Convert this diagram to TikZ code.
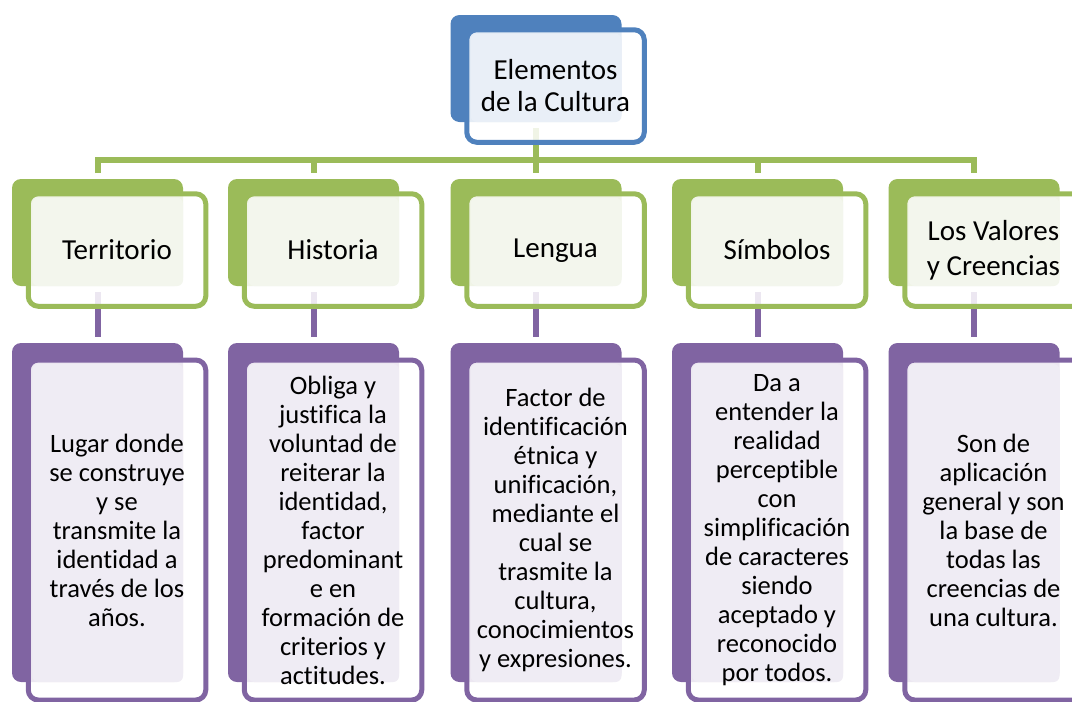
\documentclass[tikz,border=0pt]{standalone}
\usepackage{fontspec}
\setmainfont[Ligatures=NoCommon]{Carlito}
\definecolor{cgreen}{RGB}{155,187,89}
\definecolor{cgreenlt}{RGB}{243,246,237}
\definecolor{cviolet}{RGB}{128,100,162}
\definecolor{cvioletlt}{RGB}{239,236,244}
\definecolor{cblue}{RGB}{79,129,189}
\definecolor{cbluelt}{RGB}{233,239,247}

\begin{document}
\begin{tikzpicture}[
  x=1pt, y=-1pt,
  every node/.style={inner sep=0pt, outer sep=0pt, align=center},
  back/.style={fill=#1, rounded corners=9pt, minimum width=171pt},
  front/.style={draw=#1, line width=5pt, fill=white, fill opacity=0.85, text opacity=1,
    rounded corners=10pt, minimum width=177.5pt, xshift=19.5pt, yshift=-17.5pt},
  panel/.style 2 args={path picture={\fill[#1, fill opacity=1, rounded corners=6pt]
    ([shift={(4pt,-4pt)}]path picture bounding box.north west) rectangle (#2.south east);}},
  topbox/.style={back=cblue, minimum height=107pt},
  topfront/.style={front=cblue, minimum height=112.5pt, panel={cbluelt}{#1},
    font=\fontsize{29}{32}\selectfont},
  item/.style={back=cgreen, minimum height=107pt},
  itemfront/.style={front=cgreen, minimum height=112.5pt, panel={cgreenlt}{#1},
    font=\fontsize{29}{35}\selectfont},
  desc/.style={back=cviolet, minimum height=339pt},
  descfront/.style={front=cviolet, minimum height=340pt, panel={cvioletlt}{#1},
    font=\fontsize{26.5}{29}\selectfont},
  link/.style={line width=6pt, shorten <=6pt, shorten >=6pt}
  ]

\useasboundingbox (0,0) rectangle (1072,702);

\node[topbox] (cult) at (536,68.5) {};

\node[item] (terr) at (97.5,232.5) {};
\node[item] (hist) at (313.5,232.5) {};
\node[item] (leng) at (536,232.5) {};
\node[item] (simb) at (757.5,232.5) {};
\node[item] (valo) at (974,232.5) {};

\node[desc] (terrD) at (97.5,512.5) {};
\node[desc] (histD) at (313.5,512.5) {};
\node[desc] (lengD) at (536,512.5) {};
\node[desc] (simbD) at (757.5,512.5) {};
\node[desc] (valoD) at (974,512.5) {};

\coordinate (bus) at (536,160);
\draw[link, cgreen] (cult.south) -- (leng.north);
\draw[link, cgreen] (terr.north) -- (terr.north |- bus) -- (valo.north |- bus) -- (valo.north);
\draw[link, cgreen, shorten <=0pt] (hist.north |- bus) -- (hist.north);
\draw[link, cgreen, shorten <=0pt] (simb.north |- bus) -- (simb.north);

\draw[link, cviolet] (terr.south) -- (terrD.north);
\draw[link, cviolet] (hist.south) -- (histD.north);
\draw[link, cviolet] (leng.south) -- (lengD.north);
\draw[link, cviolet] (simb.south) -- (simbD.north);
\draw[link, cviolet] (valo.south) -- (valoD.north);

\node[topfront=cult] (cultF) at (cult) {Elementos\\de la Cultura};

\node[itemfront=terr] (terrF) at (terr) {Territorio};
\node[itemfront=hist] (histF) at (hist) {Historia};
\node[itemfront=leng] (lengF) at (leng) {\strut Lengua};
\node[itemfront=simb] (simbF) at (simb) {Símbolos};
\node[itemfront=valo] (valoF) at (valo) {Los Valores\\y Creencias};

\node[descfront=terrD] (terrDF) at (terrD) {Lugar donde\\se construye\\y se\\transmite la\\identidad a\\través de los\\años.};
\node[descfront=histD] (histDF) at (histD) {Obliga y\\justifica la\\voluntad de\\reiterar la\\identidad,\\factor\\predominant\\e en\\formación de\\criterios y\\actitudes.};
\node[descfront=lengD] (lengDF) at (lengD) {Factor de\\identificación\\étnica y\\unificación,\\mediante el\\cual se\\trasmite la\\cultura,\\conocimientos\\y expresiones.};
\node[descfront=simbD] (simbDF) at (simbD) {Da a\\entender la\\realidad\\perceptible\\con\\simplificación\\de caracteres\\siendo\\aceptado y\\reconocido\\por todos.};
\node[descfront=valoD] (valoDF) at (valoD) {Son de\\aplicación\\general y son\\la base de\\todas las\\creencias de\\una cultura.};

\end{tikzpicture}
\end{document}
